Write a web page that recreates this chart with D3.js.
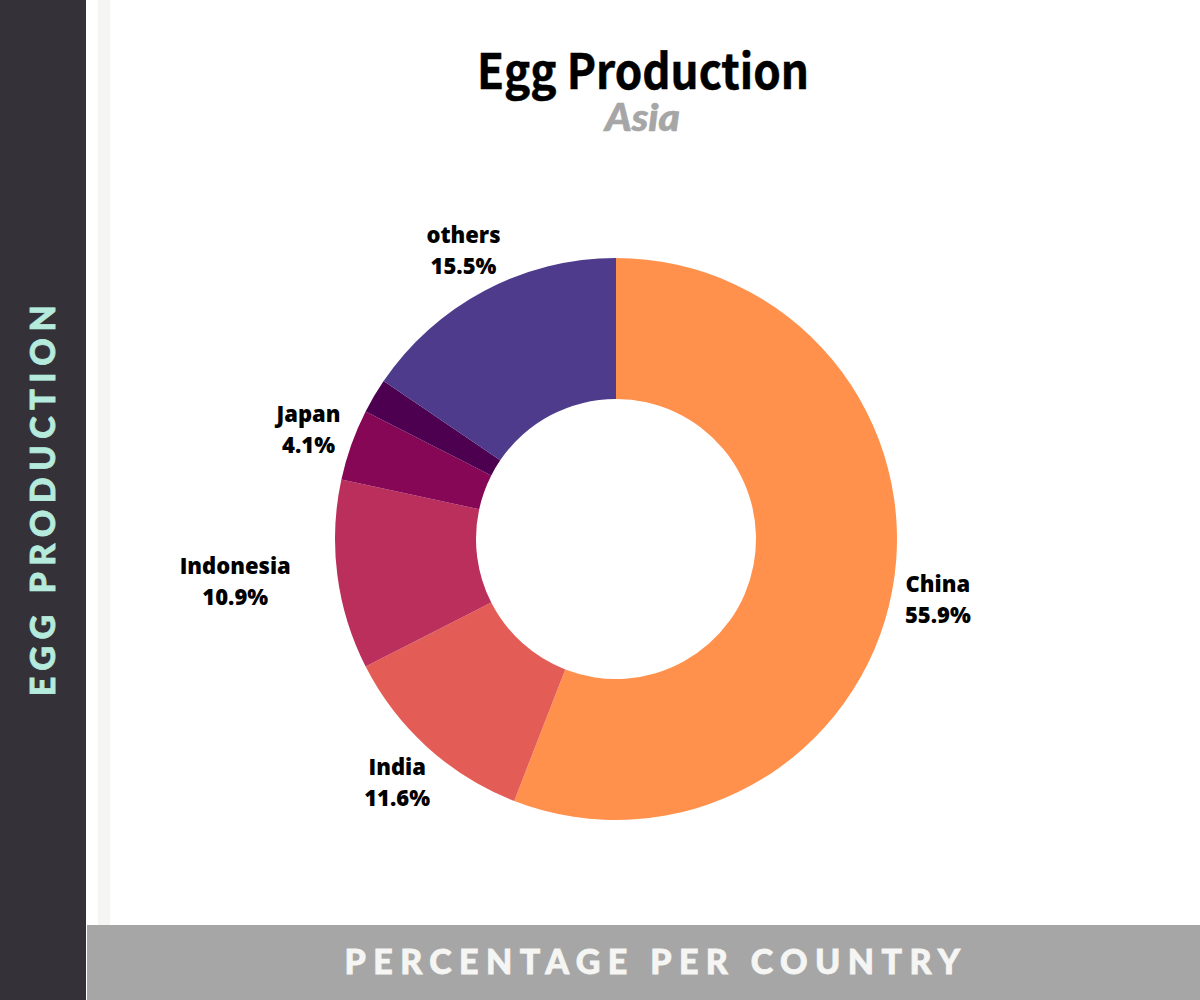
<!DOCTYPE html>
<html><head><meta charset="utf-8">
<script src="https://d3js.org/d3.v7.min.js"></script>
<style>html,body{margin:0;padding:0;background:#fff}svg{display:block}</style>
</head><body><svg id="c" width="1200" height="1000"></svg>
<script>
const categories = ["China","India","Indonesia","Japan","","others"];
const values = [55.9,11.6,10.9,4.1,2.0,15.5];
const sliceColors = ["#FF914D","#E35D56","#BA2F5B","#870757","#4D0050","#4E3B8C"];
const labelNudgeX = [0,0,-57,0,0,0];
const titleText = "Egg Production", subtitleText = "Asia";
const sideText = "EGG PRODUCTION", bottomText = "PERCENTAGE PER COUNTRY";

const W=1200,H=1000,cx=616,cy=539,R=281,r0=140,labelR=327;
const svg=d3.select("#c");
svg.append("rect").attr("width",W).attr("height",H).attr("fill","#fff");
svg.append("rect").attr("x",98).attr("y",0).attr("width",12).attr("height",925).attr("fill","#F5F5F3");
svg.append("rect").attr("x",0).attr("y",0).attr("width",86).attr("height",H).attr("fill","#353139");
svg.append("rect").attr("x",87).attr("y",925).attr("width",W-87).attr("height",75).attr("fill","#A6A6A6");
svg.append("text").attr("transform","translate(42,497.5) rotate(-90)").attr("x",0).attr("y",13)
  .attr("text-anchor","middle").attr("font-family","Lato").attr("font-weight",900).attr("font-size",34)
  .attr("letter-spacing",6.6).attr("fill","#B5EBDD").attr("stroke","#B5EBDD").attr("stroke-width",0.8).text(sideText);
svg.append("text").attr("x",656).attr("y",974).attr("text-anchor","middle").attr("font-family","Lato")
  .attr("font-weight",900).attr("font-size",34).attr("letter-spacing",7.4).attr("fill","#F5F5F3").attr("stroke","#F5F5F3").attr("stroke-width",0.8).text(bottomText);
svg.append("text").attr("x",643).attr("y",89).attr("text-anchor","middle").attr("font-family","'Noto Sans CJK SC'")
  .attr("font-weight",700).attr("font-size",48).attr("fill","#000").attr("stroke","#000").attr("stroke-width",0.5)
  .attr("textLength",332).attr("lengthAdjust","spacingAndGlyphs").text(titleText);
svg.append("text").attr("x",642.5).attr("y",131).attr("text-anchor","middle").attr("font-family","Lato")
  .attr("font-weight",900).attr("font-style","italic").attr("font-size",37).attr("fill","#A6A6A6").attr("stroke","#A6A6A6").attr("stroke-width",0.6)
  .attr("textLength",75).attr("lengthAdjust","spacingAndGlyphs").text(subtitleText);

const pie=d3.pie().sort(null).value(d=>d);
const arcs=pie(values);
const arc=d3.arc().innerRadius(r0).outerRadius(R);
const labelArc=d3.arc().innerRadius(labelR).outerRadius(labelR);
const g=svg.append("g").attr("transform",`translate(${cx},${cy})`);
g.selectAll("path").data(arcs).join("path").attr("d",arc).attr("fill",(d,i)=>sliceColors[i]);
const lab=g.selectAll("g.l").data(arcs.filter(d=>categories[d.index])).join("g").attr("class","l")
  .attr("transform",d=>{const c=labelArc.centroid(d);return `translate(${c[0]+labelNudgeX[d.index]+0.5},${c[1]+1})`;})
  .attr("font-family","'Open Sans'").attr("font-weight",800).attr("font-size",22).attr("text-anchor","middle").attr("fill","#000");
lab.append("text").attr("y",-8).text(d=>categories[d.index]);
lab.append("text").attr("y",23).text(d=>d3.format(".1f")(d.data)+"%");
</script></body></html>
